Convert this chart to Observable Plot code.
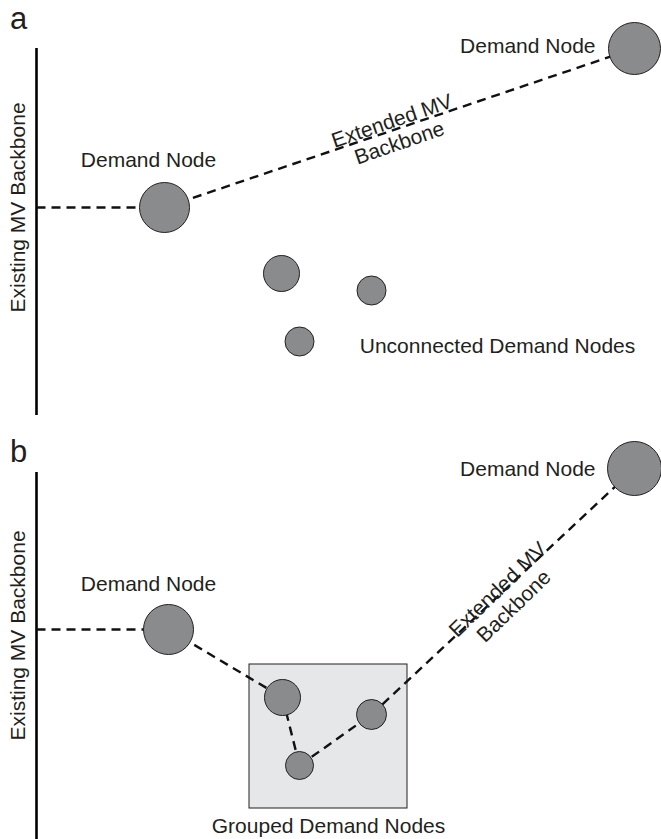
<!DOCTYPE html>
<html>
<head>
<meta charset="utf-8">
<script src="https://cdn.jsdelivr.net/npm/d3@7"></script>
<script src="https://cdn.jsdelivr.net/npm/@observablehq/plot@0.6"></script>
<style>
  html, body { margin: 0; padding: 0; background: #fff; }
  #chart svg { display: block; }
</style>
</head>
<body>
<div id="chart"></div>
<script>
// Diagram coordinates (units of the drawing space, 661 x 839)
const nodeIds    = ["a-main", "a-far", "a-u1", "a-u2", "a-u3", "b-main", "b-far", "b-g1", "b-g2", "b-g3"];
const nodeX      = [164, 634, 281, 371, 299, 168, 634, 282, 299, 371];
const nodeY      = [207,  48, 273, 290, 341, 629, 468, 697, 765, 714];
const nodeSize   = [ 25,  26,  18, 14.5, 14.5, 25,  27,  18,  14,  15];

// Existing backbones (panel, x, top, bottom)
const backbonePanels = ["a", "b"];
const backboneX      = [36, 36];
const backboneTop    = [48, 472];
const backboneBottom = [415, 839];

// Dashed connections: from node / backbone to node
const linkFrom = ["bb-a", "a-main", "bb-b", "b-main", "b-g1", "b-g2", "b-g3"];
const linkTo   = ["a-main", "a-far", "b-main", "b-g1", "b-g2", "b-g3", "b-far"];

// Group box in panel b
const groupX1 = [249], groupX2 = [407], groupY1 = [664], groupY2 = [808];

// Labels
const labelText   = ["Demand Node", "Demand Node", "Unconnected Demand Nodes", "Demand Node", "Demand Node", "Grouped Demand Nodes"];
const labelX      = [148, 595, 497, 148, 595, 328];
const labelY      = [166, 52, 352, 590, 475, 832];
const labelAnchor = ["middle", "end", "middle", "middle", "end", "middle"];

const axisLabelText = ["Existing MV Backbone", "Existing MV Backbone"];
const axisLabelX = [18, 18];
const axisLabelY = [207, 635];

const extText  = ["Extended MV\nBackbone", "Extended MV\nBackbone"];
const extX     = [395, 505];
const extY     = [131, 597];
const extAngle = [-19, -44];

const panelLetters = ["a", "b"];
const panelLetterX = [18, 18];
const panelLetterY = [28, 461];

// ---- build tables ----
const nodes = nodeIds.map((id, i) => ({id, x: nodeX[i], y: nodeY[i], r: nodeSize[i]}));
const byId = Object.fromEntries(nodes.map(n => [n.id, n]));
backbonePanels.forEach((p, i) => { byId["bb-" + p] = {x: backboneX[i]}; });
const links = linkFrom.map((f, i) => {
  const t = byId[linkTo[i]];
  const s = f.startsWith("bb-") ? {x: byId[f].x, y: t.y} : byId[f];
  return {x1: s.x, y1: s.y, x2: t.x, y2: t.y};
});
const backbones = backbonePanels.map((p, i) => ({x: backboneX[i], y1: backboneTop[i], y2: backboneBottom[i]}));
const box = groupX1.map((v, i) => ({x1: v, x2: groupX2[i], y1: groupY1[i], y2: groupY2[i]}));
const labels = labelText.map((t, i) => ({t, x: labelX[i], y: labelY[i], a: labelAnchor[i]}));
const axisLabels = axisLabelText.map((t, i) => ({t, x: axisLabelX[i], y: axisLabelY[i]}));
const extLabels = extText.map((t, i) => ({t, x: extX[i], y: extY[i], r: extAngle[i]}));
const letters = panelLetters.map((t, i) => ({t, x: panelLetterX[i], y: panelLetterY[i]}));

const FONT = "'Liberation Sans', Arial, Helvetica, sans-serif";
const INK = "#231f20";

const marks = [
  Plot.rect(box, {x1: "x1", x2: "x2", y1: "y1", y2: "y2", fill: "#e6e7e8", stroke: INK, strokeWidth: 1}),
  Plot.ruleX(backbones, {x: "x", y1: "y1", y2: "y2", stroke: "#000", strokeWidth: 2.6}),
  Plot.link(links, {x1: "x1", y1: "y1", x2: "x2", y2: "y2", stroke: "#111", strokeWidth: 2.4, strokeDasharray: "9,6"}),
  Plot.dot(nodes, {x: "x", y: "y", r: "r", fill: "#8a8b8d", stroke: INK, strokeWidth: 1}),
  Plot.text(labels.filter(d => d.a === "middle"), {x: "x", y: "y", text: "t", textAnchor: "middle", lineAnchor: "bottom", fontSize: 21, fill: INK}),
  Plot.text(labels.filter(d => d.a === "end"), {x: "x", y: "y", text: "t", textAnchor: "end", lineAnchor: "bottom", fontSize: 21, fill: INK}),
  Plot.text(axisLabels, {x: "x", y: "y", text: "t", rotate: -90, lineAnchor: "middle", fontSize: 21, fill: INK}),
  Plot.text(letters, {x: "x", y: "y", text: "t", lineAnchor: "bottom", fontSize: 31, fill: INK})
];
extLabels.forEach(d => {
  marks.push(Plot.text([d], {x: "x", y: "y", text: "t", rotate: d.r, lineAnchor: "middle", lineHeight: 1.1, fontSize: 21, fill: INK}));
});

const chart = Plot.plot({
  width: 661,
  height: 839,
  margin: 0,
  style: {fontFamily: FONT, background: "#fff"},
  x: {domain: [0, 661], axis: null},
  y: {domain: [0, 839], reverse: true, axis: null},
  r: {type: "identity"},
  marks
});
document.getElementById("chart").appendChild(chart);
</script>
</body>
</html>
